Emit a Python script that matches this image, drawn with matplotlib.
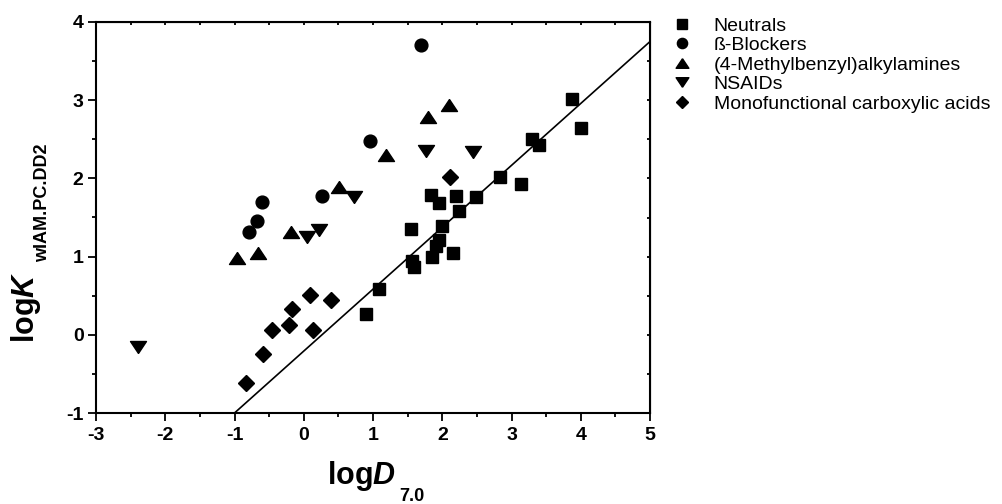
import matplotlib
matplotlib.use("Agg")
import matplotlib.pyplot as plt
from matplotlib.ticker import MultipleLocator

plt.rcParams["font.family"] = ["Liberation Sans", "DejaVu Sans"]
plt.rcParams["axes.unicode_minus"] = False
plt.rcParams["mathtext.fontset"] = "custom"
plt.rcParams["mathtext.rm"] = "Liberation Sans"
plt.rcParams["mathtext.bf"] = "Liberation Sans:bold"
plt.rcParams["mathtext.bfit"] = "Liberation Sans:italic:bold"
plt.rcParams["mathtext.it"] = "Liberation Sans:italic"

# ---- data ----
neutral_x = [0.90, 1.08, 1.55, 1.56, 1.59, 1.85, 1.91, 1.96, 1.99, 2.16, 1.84, 1.95, 2.20,
             2.24, 2.49, 2.83, 3.13, 3.29, 3.40, 3.87, 4.01]
neutral_y = [0.26, 0.59, 1.35, 0.94, 0.87, 0.99, 1.14, 1.21, 1.39, 1.04, 1.79, 1.68, 1.78,
             1.58, 1.76, 2.02, 1.93, 2.51, 2.43, 3.02, 2.65]

beta_x = [-0.79, -0.68, -0.60, 0.27, 0.95, 1.70]
beta_y = [1.31, 1.45, 1.70, 1.78, 2.48, 3.71]

amine_x = [-0.97, -0.66, -0.19, 0.51, 1.19, 1.79, 2.10]
amine_y = [0.98, 1.04, 1.31, 1.89, 2.30, 2.79, 2.94]

nsaid_x = [-2.39, 0.05, 0.22, 0.73, 1.77, 2.45]
nsaid_y = [-0.16, 1.25, 1.34, 1.76, 2.35, 2.34]

acid_x = [-0.83, -0.59, -0.46, -0.21, 0.14, -0.17, 0.09, 0.40, 2.11]
acid_y = [-0.62, -0.25, 0.06, 0.12, 0.06, 0.33, 0.51, 0.44, 2.02]

line_x = [-1.0, 5.0]
line_y = [-1.0, 3.75]

W, H = 1003, 504
fig = plt.figure(figsize=(W / 100, H / 100), dpi=100)
ax = fig.add_axes([96 / W, 1 - 413 / H, (650 - 96) / W, (413 - 22) / H])

# flattened triangles like the original (wider than tall)
TRI_UP = [(0, 0.75), (-1, -0.75), (1, -0.75), (0, 0.75)]
TRI_DN = [(0, -0.75), (-1, 0.75), (1, 0.75), (0, -0.75)]

ax.plot(line_x, line_y, color="black", lw=1.2, zorder=2)
ax.plot(neutral_x, neutral_y, "s", color="black", ms=8.5, ls="none", label="Neutrals", zorder=3)
ax.plot(beta_x, beta_y, "o", color="black", ms=9.2, ls="none", label="ß-Blockers", zorder=3)
ax.plot(amine_x, amine_y, marker=TRI_UP, color="black", ms=11.5, ls="none",
        label="(4-Methylbenzyl)alkylamines", zorder=3)
ax.plot(nsaid_x, nsaid_y, marker=TRI_DN, color="black", ms=11.5, ls="none",
        label="NSAIDs", zorder=3)
ax.plot(acid_x, acid_y, "D", color="black", ms=8, ls="none",
        label="Monofunctional carboxylic acids", zorder=3)

ax.set_xlim(-3, 5)
ax.set_ylim(-1, 4)
ax.xaxis.set_major_locator(MultipleLocator(1))
ax.xaxis.set_minor_locator(MultipleLocator(0.5))
ax.yaxis.set_major_locator(MultipleLocator(1))
ax.yaxis.set_minor_locator(MultipleLocator(0.5))
ax.tick_params(which="both", direction="out", top=False, right=False, width=1.3)
ax.tick_params(which="major", length=6, labelsize=14)
ax.tick_params(axis="x", which="major", pad=4)
ax.tick_params(axis="y", which="major", pad=3)
ax.tick_params(which="minor", length=3)
for lab in ax.get_xticklabels() + ax.get_yticklabels():
    lab.set_fontweight("bold")
for s in ax.spines.values():
    s.set_linewidth(1.5)

# small inward ticks on top and right
ax2 = ax.secondary_xaxis("top")
ax2.xaxis.set_major_locator(MultipleLocator(0.5))
ax2.tick_params(direction="in", length=2.5, width=1.3, labeltop=False)
ay2 = ax.secondary_yaxis("right")
ay2.yaxis.set_major_locator(MultipleLocator(0.5))
ay2.tick_params(direction="in", length=2.5, width=1.3, labelright=False)

# axis titles, placed by pixel like the original (subscript dropped well below)
def px(x, y):
    return x / W, 1 - y / H

fig.text(*px(327, 484), r"$\mathbf{log}\mathbfit{D}$", fontsize=22, ha="left", va="baseline")
fig.text(*px(399, 501), "7.0", fontsize=13, fontweight="bold", ha="left", va="baseline")
fig.text(*px(34, 343), r"$\mathbf{log}\mathbfit{K}$", fontsize=22, rotation=90,
         rotation_mode="anchor", ha="left", va="baseline")
fig.text(*px(47, 262), "wIAM.PC.DD2", fontsize=13, fontweight="bold", rotation=90,
         rotation_mode="anchor", ha="left", va="baseline")

fs = 14
ax.legend(loc="upper left", bbox_to_anchor=((672 - 96) / 554, (413 - 17) / 391),
          frameon=False, fontsize=fs, markerscale=0.8, handlelength=1.0,
          handletextpad=1.15, labelspacing=0.1, borderaxespad=0, borderpad=0)

fig.savefig("out.png", dpi=100)
